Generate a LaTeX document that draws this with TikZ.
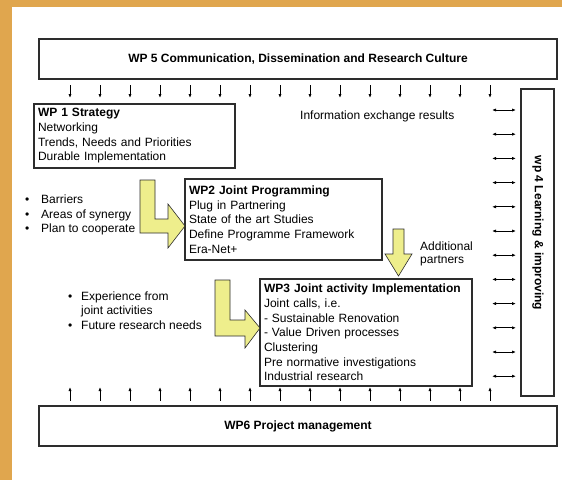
\documentclass[tikz,border=0pt]{standalone}
\usepackage{fontspec}
\setmainfont{Liberation Sans}
\usetikzlibrary{arrows.meta,positioning}
\definecolor{wporange}{RGB}{224,166,78}
\definecolor{wpyellow}{RGB}{238,238,140}
\definecolor{wpgray}{RGB}{45,45,45}

\begin{document}
\begin{tikzpicture}[x=1pt,y=-1pt,
    every node/.style={font={\fontsize{12}{14.7}\selectfont}},
    wpbox/.style={draw=wpgray,line width=1.3pt,fill=white,inner xsep=4pt,
                  inner ysep=0pt,align=left},
    lbl/.style={inner sep=0pt,align=left},
    bar/.style={draw=wpgray,line width=0.6pt,fill=wpyellow},
    tick/.style={-{Latex[length=4pt,width=3.2pt]},line width=0.8pt},
    both/.style={{Latex[length=4pt,width=3.2pt]}-{Latex[length=4pt,width=3.2pt]},line width=0.8pt}]
    \useasboundingbox (0,0) rectangle (562,480);
    \fill[white] (0,0) rectangle (562,480);
    \fill[wporange] (0,0) rectangle (562,7);
    \fill[wporange] (0,0) rectangle (12,480);
    % work packages
    \node[wpbox,align=center,minimum width=518pt,minimum height=40pt] (wp5) at (298,59)
      {\textbf{WP 5 Communication, Dissemination and Research Culture}};
    \node[wpbox,align=center,minimum width=518pt,minimum height=40pt] (wp6) at (298,426)
      {\textbf{WP6 Project management}};
    \node[wpbox,text width=193pt,minimum height=64pt] (wp1) at (134.5,136)
      {\textbf{WP 1 Strategy}\\Networking\\Trends, Needs and Priorities\\Durable Implementation};
    \node[wpbox,text width=189pt,minimum height=81pt] (wp2) at (283.5,219.5)
      {\textbf{WP2 Joint Programming}\\Plug in Partnering\\State of the art Studies\\
       Define Programme Framework\\Era-Net+};
    \node[wpbox,text width=204pt,minimum height=107pt] (wp3) at (366,332.5)
      {\textbf{WP3 Joint activity Implementation}\\Joint calls, i.e.\\- Sustainable Renovation\\
       - Value Driven processes\\Clustering\\Pre normative investigations\\Industrial research};
    \node[wpbox,minimum width=33pt,minimum height=307pt] (wp4) at (537.5,242.5) {};
    \node[lbl,rotate=-90] (wp4t) at (538,233) {\textbf{wp 4 Learning \& improving}};
    % side notes
    \node[lbl,anchor=west] (info) at (300,116) {Information exchange results};
    \node[lbl,anchor=west] (syn) at (25,215)
      {\makebox[16pt][l]{\textbullet}Barriers\\\makebox[16pt][l]{\textbullet}Areas of synergy\\
       \makebox[16pt][l]{\textbullet}Plan to cooperate};
    \node[lbl,anchor=west] (exp) at (68,310.5)
      {\makebox[13pt][l]{\textbullet}Experience from\\\hspace*{13pt}joint activities\\
       \makebox[13pt][l]{\textbullet}Future research needs};
    \node[lbl,anchor=west] (addp) at (420,253.5) {Additional\\[-1.5pt]partners};
    % yellow flow arrows
    \filldraw[bar] (140,180) -- (155,180) -- (155,219) -- (168,219) -- (168,204) -- (185,226)
      -- (168,248) -- (168,233) -- (140,233) -- cycle;
    \filldraw[bar] (215,280) -- (230,280) -- (230,320) -- (245,320) -- (245,310) -- (260,328)
      -- (245,348) -- (245,336) -- (215,336) -- cycle;
    \filldraw[bar] (393,229) -- (404,229) -- (404,254) -- (412,254) -- (398.5,276)
      -- (385,254) -- (393,254) -- cycle;
    % small arrows
    \foreach \i in {0,...,14} {
      \coordinate (dn\i) at ({70+30*\i},85);
      \coordinate (dh\i) at ({70+30*\i},98);
      \draw[tick] (dn\i) -- (dh\i);
      \coordinate (up\i) at ({70+30*\i},401);
      \coordinate (uh\i) at ({70+30*\i},387);
      \draw[tick] (up\i) -- (uh\i);
    }
    \foreach \i in {0,...,11} {
      \coordinate (la\i) at (492,{110+24.2*\i});
      \coordinate (lb\i) at (516,{110+24.2*\i});
      \draw[both] (la\i) -- (lb\i);
    }
\end{tikzpicture}
\end{document}
